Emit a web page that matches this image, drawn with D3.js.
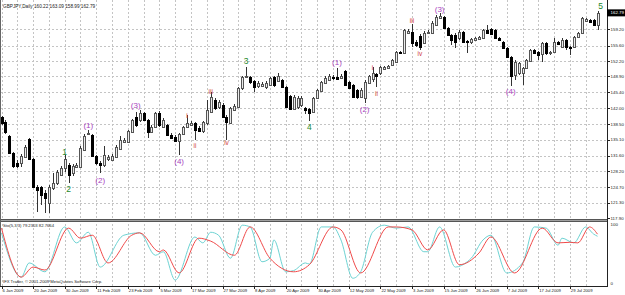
<!DOCTYPE html>
<html>
<head>
<meta charset="utf-8">
<script src="https://cdnjs.cloudflare.com/ajax/libs/d3/7.8.5/d3.min.js"></script>
<style>
body { margin: 0; background: #fff; }
svg { display: block; }
</style>
</head>
<body>
<div class="center"></div>
<script>
// GBPJPY daily bars (bar 0 = 6 Jan 2009)
var opens = [140.04,138.94,135.88,132.17,129.98,129.98,131.30,135.23,130.86,124.74,
  124.74,123.43,121.24,124.52,125.61,127.36,128.89,129.55,127.80,129.11,
  129.11,132.83,136.32,136.10,131.51,129.98,129.55,130.86,130.64,131.30,
  133.04,134.57,134.57,136.76,140.04,139.38,140.91,139.38,136.76,137.85,
  140.91,137.85,138.29,136.10,135.67,134.79,136.32,137.85,138.29,138.72,
  137.63,136.98,138.72,141.13,143.75,142.22,142.66,140.04,138.72,141.57,
  142.22,146.37,148.78,148.78,147.90,146.81,146.81,146.59,147.03,148.78,
  147.90,148.12,146.59,144.62,141.78,142.22,142.66,142.00,141.78,141.13,
  144.19,145.72,147.46,148.12,148.78,148.78,148.56,150.09,147.68,147.03,
  145.94,144.41,144.19,147.46,148.34,149.43,149.65,150.52,150.74,151.40,
  152.05,154.24,154.02,158.39,158.61,156.42,157.73,156.20,158.39,158.39,
  160.14,161.67,161.89,159.48,157.95,157.95,157.30,158.61,156.64,156.42,
  156.86,157.08,157.30,159.05,159.26,159.05,157.30,156.42,155.11,153.15,
  149.21,149.65,149.65,150.74,152.27,154.68,154.24,153.80,156.20,154.02,
  154.24,156.42,155.33,156.86,155.33,155.33,157.52,158.39,161.01,161.23,
  161.23,160.22];
var highs = [140.25,139.38,136.10,132.39,130.64,131.95,133.92,135.45,131.08,125.18,
  124.96,124.09,125.18,127.80,128.46,129.33,131.73,129.98,129.77,129.98,
  133.70,136.32,137.20,136.32,131.73,130.42,133.70,131.73,131.95,133.92,
  135.88,135.45,137.20,139.60,141.13,141.57,141.13,139.60,138.29,141.13,
  141.35,139.82,138.51,136.54,136.10,136.54,138.07,140.47,139.16,138.94,
  138.07,139.16,143.75,145.50,144.19,143.75,143.09,140.47,142.22,142.88,
  146.59,148.99,150.96,148.99,148.12,147.90,147.68,147.90,148.78,148.99,
  149.65,148.34,146.81,144.84,144.84,144.62,144.62,142.22,142.00,144.41,
  146.15,147.90,148.99,149.43,149.21,150.74,149.43,150.31,147.90,147.25,
  146.15,146.37,148.12,149.21,150.96,149.65,151.18,151.18,151.40,152.71,
  154.46,154.46,159.26,159.26,160.36,156.86,158.17,158.83,159.05,161.01,
  162.32,162.76,162.10,159.70,158.17,158.39,159.05,158.83,156.86,157.30,
  157.52,157.73,159.26,160.14,159.48,159.26,157.52,156.64,155.33,153.36,
  152.49,152.05,150.96,152.71,154.89,154.89,154.46,156.42,156.42,154.46,
  157.30,156.64,157.30,157.08,155.55,157.73,158.61,161.89,161.67,161.45,
  161.45,163.09];
var lows = [138.29,136.32,131.95,128.89,128.89,129.11,131.08,130.64,124.52,119.28,
  120.81,119.06,119.06,124.09,125.18,127.14,128.02,125.61,127.14,128.89,
  128.89,132.61,136.10,131.30,129.55,127.80,129.11,130.42,130.42,131.08,
  132.83,134.35,134.35,136.54,137.85,138.94,139.16,135.45,136.54,137.63,
  137.85,137.63,135.88,135.23,134.57,131.73,136.10,137.63,138.07,135.01,
  136.76,136.54,138.29,140.91,141.57,141.78,139.82,135.01,138.51,141.35,
  142.00,145.94,148.56,147.25,145.50,146.37,146.59,146.15,146.81,146.59,
  147.68,146.37,142.00,141.57,141.57,141.78,142.22,140.69,139.16,140.91,
  143.97,145.50,147.25,147.90,148.12,148.12,148.34,146.81,146.15,144.19,
  143.97,144.19,143.09,147.25,147.68,146.59,149.21,150.31,150.52,151.18,
  151.83,153.80,153.80,158.17,155.33,155.33,154.68,155.99,158.17,158.17,
  159.92,161.45,159.26,157.73,155.77,155.11,156.86,156.20,154.02,155.99,
  156.64,156.86,157.08,158.17,157.95,157.08,156.64,154.89,152.93,146.81,
  148.12,149.21,147.03,150.52,152.05,153.80,152.49,152.05,153.58,153.58,
  154.02,155.77,155.11,154.68,153.58,155.11,157.30,158.17,160.79,160.57,
  159.92,158.99];
var closes = [138.72,136.76,132.17,129.33,129.33,131.51,133.48,130.86,124.74,124.09,
  122.99,122.34,124.74,125.61,128.02,128.89,130.86,127.36,129.33,129.55,
  133.26,135.88,136.54,131.51,129.98,129.55,131.73,131.30,131.51,133.48,
  135.01,135.01,136.98,139.38,138.29,140.91,139.38,136.76,137.85,140.91,
  138.29,139.38,136.10,135.45,134.79,136.32,137.85,138.72,138.72,137.20,
  136.98,138.94,141.57,144.41,142.00,143.31,140.04,138.94,142.00,142.44,
  146.37,148.78,148.99,147.68,146.59,147.46,147.25,147.46,148.56,147.03,
  148.99,146.59,142.22,141.78,144.41,144.19,144.19,141.57,140.91,144.19,
  145.94,147.68,148.56,148.99,148.56,148.34,148.99,147.03,146.37,144.41,
  144.41,145.94,147.68,148.99,149.65,148.99,150.96,150.96,151.18,152.49,
  154.24,154.02,159.05,158.83,156.20,155.77,155.33,158.39,158.61,160.57,
  161.89,162.10,159.48,157.95,156.86,156.42,158.61,156.42,156.42,157.08,
  157.30,157.52,159.05,158.39,158.17,157.30,156.86,155.11,153.15,148.99,
  152.05,151.83,150.74,152.49,154.68,154.02,153.58,156.20,154.02,154.24,
  156.42,155.99,156.86,155.33,155.11,157.52,158.39,161.67,161.45,160.79,
  160.14,162.79];

// stochastic (5,3,3): bar index and value at the turning points
var kBars = [0,5,7,11,16,19,22,25,31,35,39,41,44,49,51,53,55,58,61,63,66,68,69,72,74,77,78,81,84,86,89,91,94,97,100,103,107,108,111,115,118,119,122,124,128,132,135,138,141,142,145,148,150,151];
var kValues = [85,10,34,19,95,68,86,27,81,85,47,53,5,78,68,86,81,42,98,95,36,42,73,19,21,34,32,95,95,73,8,19,86,98,93,95,53,53,95,27,36,42,73,81,17,34,95,93,64,76,68,95,83,79.2];
var dBars = [0,5,8,11,17,20,23,27,33,35,40,41,45,50,53,59,63,68,74,78,84,86,91,98,100,104,108,112,116,121,124,130,137,141,144,146,149,151];
var dValues = [93,10,27,22,93,76,81,34,81,85,53,56,17,76,71,47,95,42,19,31,95,90,17,95,95,90,56,90,31,51,78,17,93,68,69,68,95,82.8];

// axis labels
var priceTicks = [159.20,155.60,152.20,148.90,145.40,142.00,138.50,135.10,131.60,128.20,124.70,121.30,117.90];
var dateLabels = ["6 Jan 2009","20 Jan 2009","30 Jan 2009","11 Feb 2009","23 Feb 2009","5 Mar 2009",
  "17 Mar 2009","27 Mar 2009","8 Apr 2009","20 Apr 2009","30 Apr 2009","12 May 2009","22 May 2009",
  "3 Jun 2009","15 Jun 2009","26 Jun 2009","7 Jul 2009","17 Jul 2009","29 Jul 2009"];
var lastPrice = 162.79;

// elliott wave marks: text, bar, price
var waveText  = ["1","2","3","4","5","(1)","(2)","(3)","(4)","(1)","(2)","(3)","(4)","i","ii","iii","iv","i","ii","iii","iv"];
var waveBar   = [16,17,62,78,151.8,22,25,34,45,85,92,111,129,47,49,53,57,94,95,104,106];
var wavePrice = [132.4,124.3,152.3,137.85,164.3,138.3,126.3,142.66,130.4,152.05,141.8,163.6,145.7,140.5,133.9,145.7,134.6,150.9,145.3,161.2,154.0];
var waveDeg   = [1,1,1,1,1,0,0,0,0,0,0,0,0,2,2,2,2,2,2,2,2];

var width = 625, height = 295,
    plotRight = 607,
    mainBottom = 219,
    stochTop = 222, stochBottom = 286;

var x = d3.scaleLinear().domain([0, 151]).range([1.5, 597.5]);
var y = d3.scaleLinear().domain([117.75, 165.6]).range([mainBottom, 0]);
var ys = d3.scaleLinear().domain([0, 100]).range([283, 224]);

var svg = d3.select(".center").append("svg")
    .attr("width", width)
    .attr("height", height)
    .attr("font-family", "Liberation Sans, Arial, sans-serif");

svg.append("rect").attr("width", width).attr("height", height).attr("fill", "#fff");

svg.append("clipPath").attr("id", "mainclip")
  .append("rect").attr("x", 0).attr("y", 0).attr("width", plotRight).attr("height", mainBottom);

// grid
var gridBars = d3.range(0, 152, 4);
svg.append("g").selectAll("line")
    .data(gridBars)
    .enter().append("line")
    .attr("x1", function(d) { return Math.round(x(d)) + 0.5; })
    .attr("x2", function(d) { return Math.round(x(d)) + 0.5; })
    .attr("y1", 0).attr("y2", stochBottom)
    .attr("stroke", "#c4c4c4")
    .attr("stroke-dasharray", "2,2");

svg.append("g").selectAll("line")
    .data(priceTicks.slice(0, -1))
    .enter().append("line")
    .attr("x1", 0).attr("x2", plotRight)
    .attr("y1", function(d) { return Math.round(y(d)) + 0.5; })
    .attr("y2", function(d) { return Math.round(y(d)) + 0.5; })
    .attr("stroke", "#c4c4c4")
    .attr("stroke-dasharray", "2,2");

// candles
var bars = opens.map(function(o, i) {
    return {i: i, o: o, h: highs[i], l: lows[i], c: closes[i]};
});

var candles = svg.append("g").attr("clip-path", "url(#mainclip)")
    .selectAll("g").data(bars).enter().append("g");

candles.append("line")
    .attr("x1", function(d) { return Math.round(x(d.i)) + 0.5; })
    .attr("x2", function(d) { return Math.round(x(d.i)) + 0.5; })
    .attr("y1", function(d) { return Math.round(y(d.h)); })
    .attr("y2", function(d) { return Math.round(y(d.l)); })
    .attr("stroke", "#333");

candles.append("rect")
    .attr("x", function(d) { return Math.round(x(d.i)) - 0.5; })
    .attr("y", function(d) { return Math.round(y(Math.max(d.o, d.c))) + 0.5; })
    .attr("width", 2)
    .attr("height", function(d) {
        return Math.max(0, Math.round(y(Math.min(d.o, d.c))) - Math.round(y(Math.max(d.o, d.c))));
    })
    .attr("fill", function(d) { return d.c >= d.o ? "#ebebeb" : "#000"; })
    .attr("stroke", function(d) { return d.c >= d.o ? "#555" : "#000"; });

// wave labels
var waveColor = ["#a844c0", "#23872a", "#d03c3c"];
var waveSize = ["8px", "8.5px", "6.5px"];
svg.append("g").selectAll("text")
    .data(waveText)
    .enter().append("text")
    .attr("x", function(d, i) { return x(waveBar[i]); })
    .attr("y", function(d, i) { return y(wavePrice[i]) + 3; })
    .attr("text-anchor", "middle")
    .attr("font-size", function(d, i) { return waveSize[waveDeg[i]]; })
    .attr("fill", function(d, i) { return waveColor[waveDeg[i]]; })
    .text(function(d) { return d; });

// stochastic lines
var kLine = d3.line()
    .x(function(d, i) { return x(kBars[i]); })
    .y(function(d) { return ys(d); })
    .curve(d3.curveMonotoneX);
var dLine = d3.line()
    .x(function(d, i) { return x(dBars[i]); })
    .y(function(d) { return ys(d); })
    .curve(d3.curveMonotoneX);

svg.append("path").datum(kValues)
    .attr("d", kLine).attr("fill", "none")
    .attr("stroke", "#6dd3d3").attr("stroke-width", 1);
svg.append("path").datum(dValues)
    .attr("d", dLine).attr("fill", "none")
    .attr("stroke", "#f04a4a").attr("stroke-width", 1);

// frame and panel separator
svg.append("rect").attr("x", 0).attr("y", mainBottom).attr("width", plotRight).attr("height", 3).attr("fill", "#a0a0a0");
svg.append("line").attr("x1", 0).attr("x2", plotRight).attr("y1", mainBottom + 0.5).attr("y2", mainBottom + 0.5).attr("stroke", "#555");
svg.append("line").attr("x1", 0).attr("x2", plotRight).attr("y1", mainBottom + 2.5).attr("y2", mainBottom + 2.5).attr("stroke", "#555");
svg.append("line").attr("x1", 0.5).attr("x2", 0.5).attr("y1", 0).attr("y2", stochBottom).attr("stroke", "#666");
svg.append("line").attr("x1", plotRight + 0.5).attr("x2", plotRight + 0.5).attr("y1", 0).attr("y2", stochBottom + 1).attr("stroke", "#222");
svg.append("line").attr("x1", 0).attr("x2", plotRight + 1).attr("y1", stochBottom + 0.5).attr("y2", stochBottom + 0.5).attr("stroke", "#222");

// price axis
var pAxis = svg.append("g");
pAxis.selectAll("line").data(priceTicks).enter().append("line")
    .attr("x1", plotRight).attr("x2", plotRight + 3)
    .attr("y1", function(d) { return Math.round(y(d)) + 0.5; })
    .attr("y2", function(d) { return Math.round(y(d)) + 0.5; })
    .attr("stroke", "#222");
pAxis.selectAll("text").data(priceTicks).enter().append("text")
    .attr("x", plotRight + 3.5)
    .attr("y", function(d) { return y(d) + 1.6; })
    .attr("font-size", "4.4px")
    .attr("fill", "#222")
    .text(function(d) { return d.toFixed(2); });

// last price box
svg.append("rect")
    .attr("x", plotRight).attr("y", y(lastPrice) - 3.5)
    .attr("width", width - plotRight).attr("height", 7)
    .attr("fill", "#000");
svg.append("text")
    .attr("x", plotRight + 3.5).attr("y", y(lastPrice) + 1.6)
    .attr("font-size", "4.4px").attr("fill", "#fff")
    .text(lastPrice.toFixed(2));

// stochastic scale
var sTicks = [100, 0];
svg.append("g").selectAll("text").data(sTicks).enter().append("text")
    .attr("x", plotRight + 3.5)
    .attr("y", function(d) { return ys(d) + 1.6; })
    .attr("font-size", "4.4px")
    .attr("fill", "#222")
    .text(function(d) { return d; });

// date axis
var dAxis = svg.append("g");
dAxis.selectAll("line").data(dateLabels).enter().append("line")
    .attr("x1", function(d, i) { return Math.round(x(i * 8)) + 0.5; })
    .attr("x2", function(d, i) { return Math.round(x(i * 8)) + 0.5; })
    .attr("y1", stochBottom).attr("y2", stochBottom + 3)
    .attr("stroke", "#222");
dAxis.selectAll("text").data(dateLabels).enter().append("text")
    .attr("x", function(d, i) { return x(i * 8) + 1; })
    .attr("y", 292)
    .attr("font-size", "4.2px")
    .attr("fill", "#222")
    .text(function(d) { return d; });

// header texts
svg.append("text")
    .attr("x", 3).attr("y", 8)
    .attr("font-size", "4.7px").attr("fill", "#222")
    .text("GBPJPY,Daily  160.22 163.09 158.99 162.79");
svg.append("text")
    .attr("x", 3).attr("y", 227)
    .attr("font-size", "4.2px").attr("fill", "#222")
    .text("Sto(5,3,3) 79.2303 82.7664");
svg.append("text")
    .attr("x", 3).attr("y", 283)
    .attr("font-size", "4.2px").attr("fill", "#222")
    .text("IFX Trader, \u00a9 2001-2009 MetaQuotes Software Corp.");
</script>
</body>
</html>
